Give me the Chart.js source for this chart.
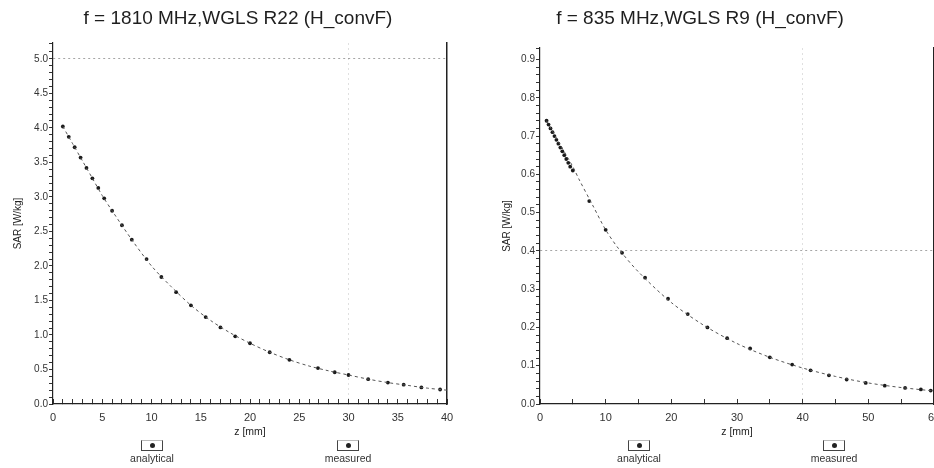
<!DOCTYPE html>
<html>
<head>
<meta charset="utf-8">
<script src="https://cdn.jsdelivr.net/npm/chart.js@4.4.1/dist/chart.umd.min.js"></script>
<style>
  html, body { margin: 0; padding: 0; background: #fff; overflow: hidden; }
  body { width: 934px; height: 468px; position: relative; font-family: "Liberation Sans", Arial, sans-serif; color: #2a2a2a; }
  .wrap { position: absolute; top: 0; height: 468px; }
  #wrapLeft { left: 0; width: 467px; }
  #wrapRight { left: 467px; width: 520px; }
  .ttl { position: absolute; top: 7px; width: 400px; margin-left: -200px; text-align: center; font-size: 19px; line-height: 22px; color: #1e1e1e; white-space: nowrap; }
  .leg { position: absolute; top: 440px; width: 80px; margin-left: -40px; text-align: center; font-size: 10.5px; line-height: 11px; color: #333; }
  .leg .box { width: 20px; height: 9px; margin: 0 auto 2px; border: 1px solid #444; border-top-color: #bbb; position: relative; }
  .leg .box::after { content: ""; position: absolute; left: 8px; top: 2px; width: 5px; height: 5px; border-radius: 50%; background: #222; }
</style>
</head>
<body>
<div class="wrap" id="wrapLeft"><canvas id="chartLeft" width="467" height="468"></canvas></div>
<div class="wrap" id="wrapRight"><canvas id="chartRight" width="520" height="468"></canvas></div>
<div class="ttl" style="left:238px">f = 1810 MHz,WGLS R22 (H_convF)</div>
<div class="ttl" style="left:700px">f = 835 MHz,WGLS R9 (H_convF)</div>
<div class="leg" style="left:152px"><div class="box"></div>analytical</div>
<div class="leg" style="left:348px"><div class="box"></div>measured</div>
<div class="leg" style="left:639px"><div class="box"></div>analytical</div>
<div class="leg" style="left:834px"><div class="box"></div>measured</div>
<script>
// 1810 MHz, WGLS R22
const zAnaL = [1, 2, 3, 4, 5, 6, 8, 10, 12, 14, 16, 18, 20, 22, 24, 26, 28, 30, 32, 34, 36, 38, 40];
const sarAnaL = [4.02, 3.77, 3.52, 3.27, 3.02, 2.80, 2.38, 2.00, 1.70, 1.43, 1.21, 1.03, 0.88, 0.75, 0.64, 0.55, 0.48, 0.42, 0.36, 0.31, 0.27, 0.23, 0.20];
const zMeasL = [1.0, 1.6, 2.2, 2.8, 3.4, 4.0, 4.6, 5.2, 6.0, 7.0, 8.0, 9.5, 11.0, 12.5, 14.0, 15.5, 17.0, 18.5, 20.0, 22.0, 24.0, 26.9, 28.6, 30.0, 32.0, 34.0, 35.6, 37.4, 39.3];
const sarMeasL = [4.02, 3.87, 3.72, 3.57, 3.42, 3.27, 3.13, 2.98, 2.80, 2.59, 2.38, 2.10, 1.84, 1.62, 1.43, 1.26, 1.11, 0.98, 0.88, 0.75, 0.64, 0.52, 0.46, 0.42, 0.36, 0.31, 0.28, 0.24, 0.21];

// 835 MHz, WGLS R9
const zAnaR = [1, 2, 3, 4, 5, 6, 8, 10, 12, 15, 20, 25, 30, 35, 40, 45, 50, 55, 60];
const sarAnaR = [0.74, 0.71, 0.68, 0.65, 0.62, 0.585, 0.52, 0.455, 0.405, 0.345, 0.265, 0.205, 0.158, 0.122, 0.094, 0.072, 0.055, 0.043, 0.034];
const zMeasR = [1.0, 1.3, 1.6, 1.9, 2.2, 2.5, 2.8, 3.1, 3.4, 3.7, 4.0, 4.3, 4.6, 5.0, 7.5, 10.0, 12.5, 16.0, 19.5, 22.5, 25.5, 28.5, 32.0, 35.0, 38.4, 41.2, 44.0, 46.7, 49.6, 52.5, 55.6, 58.0, 59.5];
const sarMeasR = [0.74, 0.73, 0.72, 0.71, 0.70, 0.69, 0.68, 0.67, 0.66, 0.65, 0.64, 0.63, 0.62, 0.61, 0.53, 0.455, 0.395, 0.33, 0.275, 0.235, 0.20, 0.172, 0.145, 0.122, 0.103, 0.088, 0.075, 0.064, 0.055, 0.048, 0.042, 0.038, 0.035];

const xTicksL = [0, 5, 10, 15, 20, 25, 30, 35, 40];
const yTicksL = [0.0, 0.5, 1.0, 1.5, 2.0, 2.5, 3.0, 3.5, 4.0, 4.5, 5.0];
const xTicksR = [0, 10, 20, 30, 40, 50, 60];
const yTicksR = [0.0, 0.1, 0.2, 0.3, 0.4, 0.5, 0.6, 0.7, 0.8, 0.9];

const FONT = "'Liberation Sans', Arial, sans-serif";
const near = (v, list) => list.some(t => Math.abs(t - v) < 1e-6);
const pts = (xs, ys) => xs.map((x, i) => ({ x, y: ys[i] }));

function makeChart(id, cfg) {
    return new Chart(document.getElementById(id), {
        type: 'scatter',
        data: {
            datasets: [{
                label: 'analytical',
                data: pts(cfg.zAna, cfg.sarAna),
                showLine: true,
                borderColor: '#555',
                borderWidth: 1,
                borderDash: [3, 3],
                pointRadius: 0,
                tension: 0.3
            }, {
                label: 'measured',
                data: pts(cfg.zMeas, cfg.sarMeas),
                showLine: false,
                pointRadius: 1.9,
                pointBackgroundColor: '#1a1a1a',
                pointBorderWidth: 0
            }]
        },
        options: {
            responsive: false,
            animation: false,
            layout: { padding: { left: 0, right: cfg.padRight, top: cfg.padTop, bottom: 30 } },
            plugins: {
                legend: { display: false },
                tooltip: { enabled: false },
                title: { display: false }
            },
            scales: {
                x: {
                    type: 'linear',
                    min: 0, max: cfg.xMax,
                    border: { color: '#222', width: 1.2, dash: [2, 3] },
                    grid: {
                        color: ctx => ctx.tick && ctx.tick.value === cfg.xGrid ? 'rgba(0,0,0,0.12)' : 'transparent',
                        tickColor: '#333',
                        tickLength: -5
                    },
                    ticks: {
                        stepSize: cfg.xStep,
                        autoSkip: false,
                        maxRotation: 0,
                        padding: 12,
                        color: '#333',
                        font: { family: FONT, size: 11 },
                        callback: v => near(v, cfg.xTicks) ? String(v) : ''
                    },
                    title: { display: true, text: 'z [mm]', color: '#222', font: { family: FONT, size: 10.5 }, padding: 0 },
                    afterFit: s => { s.height = 34; }
                },
                y: {
                    type: 'linear',
                    min: 0, max: cfg.yMax,
                    border: { color: '#222', width: 1.2, dash: [2, 3] },
                    grid: {
                        color: ctx => ctx.tick && Math.abs(ctx.tick.value - cfg.yGrid) < 1e-6 ? 'rgba(0,0,0,0.35)' : 'transparent',
                        tickColor: '#333',
                        tickLength: 4
                    },
                    ticks: {
                        stepSize: cfg.yStep,
                        autoSkip: false,
                        maxTicksLimit: 200,
                        padding: 1,
                        color: '#333',
                        font: { family: FONT, size: 10 },
                        callback: v => near(v, cfg.yTicks) ? v.toFixed(1) : ''
                    },
                    title: { display: true, text: 'SAR [W/kg]', color: '#222', font: { family: FONT, size: 10 }, padding: { top: cfg.yTitlePad, bottom: 0 } },
                    afterFit: s => { s.width = cfg.yWidth; }
                },
                yR: {
                    type: 'linear',
                    position: 'right',
                    min: 0, max: cfg.yMax,
                    border: { display: true, color: '#222', width: 1.5 },
                    grid: { display: false, drawTicks: false },
                    ticks: { display: false },
                    afterFit: s => { s.width = 0; }
                }
            }
        }
    });
}

makeChart('chartLeft', {
    zAna: zAnaL, sarAna: sarAnaL, zMeas: zMeasL, sarMeas: sarMeasL,
    xMax: 40, xStep: 1, xTicks: xTicksL, xGrid: 30,
    yMax: 5.23, yStep: 0.1, yTicks: yTicksL, yGrid: 5,
    yWidth: 53, yTitlePad: 12, padRight: 20, padTop: 43
});

makeChart('chartRight', {
    zAna: zAnaR, sarAna: sarAnaR, zMeas: zMeasR, sarMeas: sarMeasR,
    xMax: 60, xStep: 5, xTicks: xTicksR, xGrid: 40,
    yMax: 0.93, yStep: 0.02, yTicks: yTicksR, yGrid: 0.4,
    yWidth: 73, yTitlePad: 34, padRight: 53, padTop: 48
});
</script>
</body>
</html>
